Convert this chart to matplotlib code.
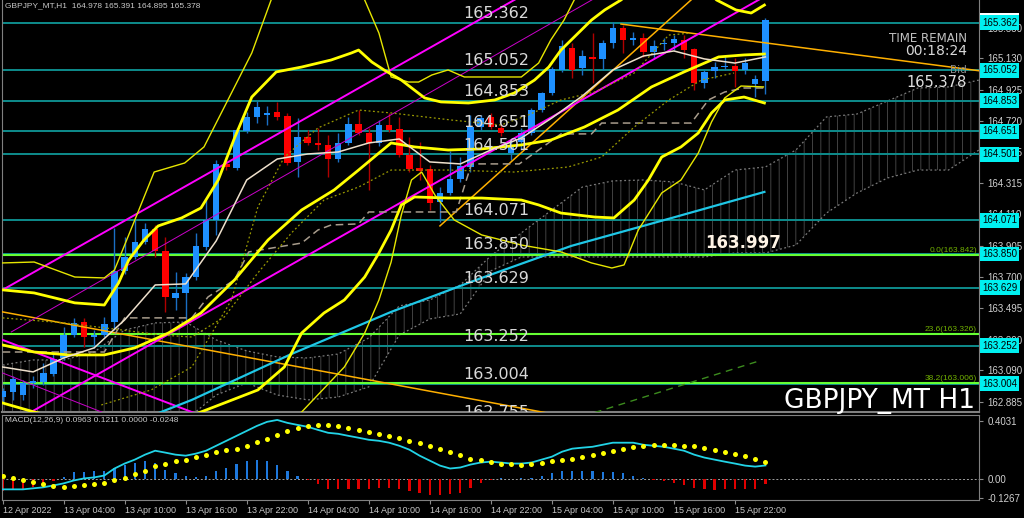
import numpy as np
import matplotlib
matplotlib.use('Agg')
import matplotlib.pyplot as plt

plt.rcParams.update({
    'font.family': ['DejaVu Sans'],
    'hatch.linewidth': 0.6,
})
SMALL = 'Liberation Sans'

# ---------------------------------------------------------------- candles (H1)
opens = [162.916, 162.949, 162.929, 163.008, 163.014, 163.067, 163.171, 163.321, 163.406, 163.308,
         163.321, 163.406, 163.740, 163.831, 163.929, 164.014, 163.870, 163.563, 163.596, 163.700,
         163.896, 164.073, 164.439, 164.412, 164.654, 164.746, 164.759, 164.778, 164.752, 164.452,
         164.615, 164.576, 164.563, 164.471, 164.576, 164.700, 164.641, 164.576, 164.693, 164.667,
         164.497, 164.412, 164.406, 164.190, 164.249, 164.341, 164.419, 164.680, 164.746, 164.674,
         164.510, 164.582, 164.641, 164.791, 164.902, 165.053, 165.196, 165.066, 165.138, 165.125,
         165.229, 165.327, 165.249, 165.262, 165.170, 165.223, 165.229, 165.249, 165.190, 164.968,
         165.046, 165.072, 165.079, 165.053, 164.961, 164.978]
highs = [162.975, 163.054, 163.027, 163.054, 163.139, 163.204, 163.374, 163.433, 163.433, 163.354,
         163.439, 164.020, 163.962, 164.073, 164.053, 164.040, 163.962, 163.733, 163.727, 163.988,
         164.203, 164.465, 164.491, 164.674, 164.778, 164.850, 164.817, 164.844, 164.772, 164.739,
         164.661, 164.674, 164.628, 164.641, 164.746, 164.791, 164.674, 164.726, 164.772, 164.746,
         164.615, 164.582, 164.432, 164.288, 164.524, 164.484, 164.759, 164.759, 164.772, 164.700,
         164.595, 164.674, 164.804, 164.909, 165.072, 165.249, 165.229, 165.183, 165.294, 165.249,
         165.366, 165.347, 165.301, 165.294, 165.249, 165.262, 165.281, 165.281, 165.196, 165.053,
         165.105, 165.151, 165.131, 165.131, 165.020, 165.391]
lows = [162.884, 162.897, 162.897, 162.975, 162.995, 163.054, 163.158, 163.308, 163.243, 163.237,
        163.308, 163.354, 163.720, 163.818, 163.916, 163.831, 163.472, 163.485, 163.420, 163.681,
        163.877, 163.975, 164.399, 164.399, 164.641, 164.706, 164.693, 164.726, 164.432, 164.354,
        164.563, 164.530, 164.354, 164.452, 164.563, 164.628, 164.269, 164.556, 164.648, 164.484,
        164.386, 164.334, 164.138, 164.060, 164.236, 164.321, 164.386, 164.661, 164.667, 164.622,
        164.465, 164.530, 164.628, 164.778, 164.889, 165.040, 165.000, 165.020, 164.968, 165.053,
        165.196, 165.164, 165.216, 165.138, 165.131, 165.183, 165.183, 165.131, 164.922, 164.935,
        165.000, 165.053, 164.942, 165.027, 164.876, 164.895]
closes = [162.956, 163.034, 163.008, 163.021, 163.073, 163.165, 163.321, 163.400, 163.308, 163.321,
          163.393, 163.740, 163.831, 163.929, 164.014, 163.870, 163.570, 163.596, 163.700, 163.903,
          164.073, 164.439, 164.419, 164.661, 164.746, 164.811, 164.772, 164.746, 164.445, 164.615,
          164.576, 164.563, 164.471, 164.576, 164.700, 164.641, 164.576, 164.693, 164.661, 164.497,
          164.406, 164.393, 164.184, 164.249, 164.341, 164.425, 164.680, 164.739, 164.680, 164.641,
          164.556, 164.641, 164.791, 164.902, 165.059, 165.209, 165.053, 165.144, 165.125, 165.229,
          165.327, 165.249, 165.262, 165.170, 165.209, 165.229, 165.255, 165.183, 164.968, 165.040,
          165.072, 165.079, 165.046, 165.098, 164.994, 165.378]

# ---------------------------------------------------------------- indicator lines (bar, price)
ma_bars = [0, 3, 6, 9, 12, 15, 18, 21, 24, 27, 30, 33, 36, 39, 42, 45, 48, 51, 54, 57, 60, 63, 66, 69, 72, 75]
ma_vals = [163.112, 163.080, 163.171, 163.237, 163.420, 163.648, 163.655, 163.936, 164.334, 164.471,
           164.504, 164.517, 164.576, 164.602, 164.452, 164.439, 164.530, 164.608, 164.739, 164.883,
           165.053, 165.144, 165.177, 165.125, 165.098, 165.138]

bb3u_bars = [0, 3.1, 7.1, 10.0, 11.0, 13.0, 14.9, 17.9, 19.8, 21.8, 24.5, 26.4, 29.4, 33.3, 35.6,
             37.0, 38.2, 39.9, 40.9, 42.2, 43.8, 45.4, 51.0, 52.7, 53.9, 55.2, 56.2, 58.9, 63.8, 74.9]
bb3u_vals = [163.792, 163.798, 163.700, 163.694, 163.746, 164.073, 164.386, 164.445, 164.550, 164.811,
             165.164, 165.510, 165.771, 165.771, 165.510, 165.294, 165.007, 164.974, 164.974, 165.020,
             165.053, 165.007, 165.007, 165.098, 165.249, 165.379, 165.510, 165.771, 165.837, 165.706]

bb2u_bars = [0, 3.1, 7.1, 10.0, 11.4, 12.4, 13.9, 15.3, 17.6, 19.5, 21.2, 22.8, 24.5, 26.9, 29.4,
             32.3, 34.3, 35.0, 36.3, 37.5, 39.2, 41.5, 43.1, 45.8, 48.4, 50.3, 52.3, 53.7, 54.9, 56.2,
             57.9, 59.2, 60.8, 63.8, 67.7, 70.2, 72.1, 73.6, 74.9]
bb2u_vals = [163.616, 163.596, 163.531, 163.517, 163.661, 163.811, 163.942, 164.034, 164.086, 164.151,
             164.334, 164.608, 164.876, 165.040, 165.072, 165.118, 165.164, 165.183, 165.105, 165.053,
             164.987, 164.870, 164.844, 164.837, 164.857, 164.902, 164.987, 165.072, 165.183, 165.268,
             165.379, 165.445, 165.510, 165.673, 165.673, 165.510, 165.445, 165.425, 165.477]

bbm_bars = [0, 3.1, 6.5, 10.0, 13.0, 16.3, 19.5, 22.8, 26.1, 29.4, 32.6, 35.0, 37.0, 38.2, 40.5,
            43.8, 47.1, 51.0, 53.9, 57.2, 60.5, 63.8, 67.0, 70.4, 72.9, 74.9]
bbm_vals = [163.256, 163.210, 163.191, 163.191, 163.237, 163.334, 163.465, 163.681, 163.942, 164.138,
            164.269, 164.399, 164.510, 164.576, 164.550, 164.530, 164.537, 164.563, 164.595, 164.680,
            164.791, 164.942, 165.040, 165.138, 165.151, 165.157]

bb2l_bars = [0, 3.1, 6.5, 14.6, 19.5, 21.8, 25.1, 27.7, 29.4, 31.6, 33.6, 35.6, 37.0, 38.2, 39.2,
             40.5, 43.8, 47.1, 51.0, 52.7, 54.9, 58.2, 60.1, 62.1, 63.5, 64.8, 66.7, 68.4, 69.7, 71.0,
             72.9, 74.9]
bb2l_vals = [162.877, 162.818, 162.766, 162.701, 162.818, 162.877, 162.962, 163.112, 163.334, 163.465,
             163.550, 163.700, 163.857, 164.007, 164.171, 164.223, 164.216, 164.216, 164.203, 164.171,
             164.118, 164.092, 164.086, 164.203, 164.334, 164.484, 164.550, 164.641, 164.772, 164.857,
             164.876, 164.837]

bb3l_bars = [27.4, 29.4, 33.6, 35.6, 37.0, 38.2, 39.2, 40.2, 41.2, 42.5, 44.4, 47.1, 51.0, 54.9, 57.9,
             59.9, 61.1, 62.5, 64.8, 66.7, 68.4, 69.7, 71.0, 72.6, 74.8]
bb3l_vals = [162.701, 162.818, 163.112, 163.334, 163.550, 163.798, 164.105, 164.334, 164.386, 164.236,
             164.073, 163.975, 163.909, 163.864, 163.792, 163.759, 163.779, 164.007, 164.249, 164.334,
             164.510, 164.713, 164.870, 164.948, 164.942]

dot1_bars = [9.7, 14.6, 18.6, 22.5, 25.1, 27.7, 31.0, 35.0, 38.2, 44.1, 49.0, 51.7, 54.9, 58.2, 62.1, 65.5, 67.7]
dot1_vals = [162.864, 162.962, 163.112, 163.550, 164.158, 164.484, 164.674, 164.791, 164.772, 164.726,
             164.693, 164.759, 164.857, 164.909, 165.033, 165.281, 165.294]
dot2_bars = [0, 6.1, 11.7, 15.6, 18.6, 21.8, 25.1, 28.4, 31.6, 35.0, 38.2, 43.8, 50.3, 55.6, 58.9, 62.1,
             65.5, 68.7, 71.9]
dot2_vals = [163.433, 163.400, 163.354, 163.321, 163.308, 163.439, 163.727, 163.988, 164.203, 164.288,
             164.399, 164.399, 164.386, 164.419, 164.484, 164.680, 164.857, 164.987, 165.033]

kijun_bars = [0, 10.0, 12.0, 18.6, 20.2, 22.8, 24.2, 29.4, 31.0, 32.3, 35.0, 36.0, 44.6, 46.1, 50.8,
              54.9, 57.9, 58.9, 67.7, 69.4, 71.0, 72.9, 74.9]
kijun_vals = [163.210, 163.210, 163.433, 163.433, 163.570, 163.681, 163.864, 163.922, 164.007, 164.040,
              164.047, 164.125, 164.125, 164.439, 164.439, 164.635, 164.635, 164.706, 164.706, 164.857,
              164.909, 164.935, 164.935]

cloud_bars = list(range(0, 97, 3))
cloud_a = [163.125, 163.158, 163.158, 163.210, 163.354, 163.400, 163.406, 163.289, 163.217, 163.178,
           163.171, 163.197, 163.302, 163.511, 163.550, 163.648, 163.838, 163.988, 164.138, 164.288,
           164.328, 164.334, 164.321, 164.269, 164.399, 164.419, 164.530, 164.746, 164.765, 164.850,
           164.935, 164.942, 164.987]
cloud_b = [162.766, 162.766, 162.766, 162.766, 162.766, 162.766, 162.766, 162.929, 163.008, 162.929,
           162.897, 162.916, 162.982, 163.321, 163.426, 163.459, 163.740, 163.831, 163.831, 163.831,
           163.831, 163.831, 163.831, 163.831, 163.857, 163.857, 163.909, 164.118, 164.249, 164.347,
           164.399, 164.399, 164.530]

ma_long_bars = [13.6, 18.6, 28.4, 38.2, 47.1, 55.9, 65.8, 74.9]
ma_long_vals = [162.766, 162.897, 163.197, 163.472, 163.694, 163.903, 164.086, 164.256]

# trend lines / channel (start, end)
chan_up = ([0, 75], [163.616, 166.440])
chan_mid = ([0.85, 75], [163.341, 166.159])
chan_lo = ([2.8, 75], [162.818, 165.536])
down_thick = ([0, 25], [163.289, 162.656])
down_thin = ([0, 15], [163.073, 162.680])
trend_or1 = ([0, 60], [163.472, 162.732])
trend_or2 = ([60.8, 96.2], [165.353, 165.046])
trend_or3 = ([43.0, 72.0], [164.034, 165.768])
green_dash = ([50, 74.4], [162.643, 163.152])

levels = [165.362, 165.052, 164.853, 164.651, 164.501, 164.071, 163.850, 163.629, 163.252, 163.004, 162.755]
fib_levels = [163.842, 163.326, 163.006]
fib_labels = ['0.0(163.842)', '23.6(163.326)', '38.2(163.006)']
price_ticks = [165.330, 165.130, 164.925, 164.720, 164.515, 164.315, 164.110, 163.905,
               163.700, 163.495, 163.290, 163.090, 162.885]

# ---------------------------------------------------------------- MACD(12,26,9)
macd = [-0.068, -0.068, -0.068, -0.061, -0.054, -0.041, -0.027, -0.007, 0.007, 0.014,
        0.027, 0.075, 0.109, 0.136, 0.170, 0.197, 0.184, 0.170, 0.163, 0.177,
        0.197, 0.231, 0.265, 0.299, 0.333, 0.367, 0.395, 0.408, 0.388, 0.374,
        0.361, 0.340, 0.320, 0.313, 0.299, 0.286, 0.272, 0.265, 0.252, 0.231,
        0.204, 0.163, 0.129, 0.095, 0.075, 0.082, 0.102, 0.116, 0.122, 0.116,
        0.109, 0.109, 0.116, 0.136, 0.156, 0.190, 0.211, 0.218, 0.224, 0.238,
        0.252, 0.252, 0.252, 0.238, 0.231, 0.224, 0.211, 0.197, 0.170, 0.150,
        0.136, 0.122, 0.109, 0.095, 0.088, 0.096]
signal = [0.027, 0.011, -0.007, -0.018, -0.034, -0.045, -0.050, -0.045, -0.041, -0.034,
          -0.023, -0.007, 0.007, 0.034, 0.061, 0.091, 0.109, 0.125, 0.136, 0.154,
          0.170, 0.188, 0.200, 0.211, 0.231, 0.254, 0.279, 0.306, 0.333, 0.352,
          0.367, 0.372, 0.372, 0.367, 0.352, 0.340, 0.327, 0.313, 0.299, 0.284,
          0.265, 0.250, 0.231, 0.209, 0.186, 0.165, 0.143, 0.131, 0.118, 0.109,
          0.107, 0.102, 0.107, 0.113, 0.125, 0.131, 0.143, 0.154, 0.170, 0.181,
          0.197, 0.209, 0.222, 0.231, 0.233, 0.236, 0.236, 0.231, 0.227, 0.213,
          0.200, 0.186, 0.175, 0.161, 0.143, 0.121]
hist = [-0.079, -0.068, -0.063, -0.050, -0.041, -0.011, 0.018, 0.050, 0.050, 0.057,
        0.061, 0.079, 0.102, 0.113, 0.125, 0.113, 0.068, 0.041, 0.023, 0.018,
        0.027, 0.061, 0.079, 0.107, 0.125, 0.136, 0.125, 0.102, 0.057, 0.023,
        -0.007, -0.034, -0.063, -0.068, -0.068, -0.063, -0.063, -0.057, -0.057, -0.068,
        -0.079, -0.091, -0.109, -0.109, -0.102, -0.091, -0.057, -0.023, -0.005, 0.007,
        0.005, 0.007, 0.011, 0.027, 0.041, 0.061, 0.061, 0.061, 0.057, 0.052,
        0.052, 0.041, 0.027, 0.007, -0.005, -0.014, -0.023, -0.036, -0.059, -0.063,
        -0.073, -0.063, -0.063, -0.063, -0.063, -0.034]

tick_bars = [0, 6, 12, 18, 24, 30, 36, 42, 48, 54, 60, 66, 72]
tick_labels = ['12 Apr 2022', '13 Apr 04:00', '13 Apr 10:00', '13 Apr 16:00', '13 Apr 22:00',
               '14 Apr 04:00', '14 Apr 10:00', '14 Apr 16:00', '14 Apr 22:00', '15 Apr 04:00',
               '15 Apr 10:00', '15 Apr 16:00', '15 Apr 22:00']

# ----------------------------------------------------------------------------------------------
fig = plt.figure(figsize=(10.24, 5.18), dpi=100, facecolor='black')
ax = fig.add_axes([2 / 1024, 106 / 518, 977 / 1024, 412 / 518], facecolor='black')
ax2 = fig.add_axes([2 / 1024, 18 / 518, 977 / 1024, 85 / 518], facecolor='black', sharex=ax)

bars = np.arange(len(opens))
o, h, l, c = (np.array(v) for v in (opens, highs, lows, closes))

# ichimoku cloud
ax.fill_between(cloud_bars, cloud_a, cloud_b, facecolor='none', edgecolor='#4c4c4c',
                hatch='||', linewidth=0, zorder=1)
ax.plot(cloud_bars, cloud_a, color='#7a7a7a', lw=0.9, ls=(0, (1.5, 2)), zorder=1.2)
ax.plot(cloud_bars, cloud_b, color='#7a7a7a', lw=0.9, ls=(0, (1.5, 2)), zorder=1.2)

# horizontal levels
for lv in levels:
    ax.axhline(lv, color='#0e8c8c', lw=1.4, zorder=2)
    ax.text(45.3, lv + 0.012, f'{lv:.3f}', color='#d8d8d8', fontsize=11.5,
            ha='left', va='bottom', zorder=8, clip_on=True)
for lv, lab in zip(fib_levels, fib_labels):
    ax.axhline(lv, color='#66ff33', lw=1.5, zorder=2.1)
    ax.text(0.9979, lv + 0.006, lab, transform=ax.get_yaxis_transform(), ha='right', va='bottom',
            fontsize=6, family=SMALL, color='#70b000', zorder=8)

# candles
up = c >= o
ax.vlines(bars, l, h, colors=np.where(up, '#1a6fc4', '#b00000'), lw=1, zorder=3)
ax.bar(bars, np.maximum(np.abs(c - o), 0.004), bottom=np.minimum(o, c), width=0.64,
       color=np.where(up, '#1e90ff', '#ff0000'), linewidth=0, zorder=3.1)

# indicators
ax.plot(*trend_or1, color='#ffb000', lw=1.1, zorder=4)
ax.plot(*trend_or2, color='#ffb000', lw=1.1, zorder=4)
ax.plot(*trend_or3, color='#ffb000', lw=1.1, zorder=4)
ax.plot(*green_dash, color='#3c8c1e', lw=1, ls=(0, (5, 4)), zorder=4)
ax.plot(*chan_up, color='#ff00ff', lw=1.4, zorder=4)
ax.plot(*chan_mid, color='#cc00cc', lw=0.7, zorder=4)
ax.plot(*chan_lo, color='#ff00ff', lw=1.4, zorder=4)
ax.plot(*down_thick, color='#ff00ff', lw=1.4, zorder=4)
ax.plot(*down_thin, color='#cc00cc', lw=0.7, zorder=4)
ax.plot(ma_long_bars, ma_long_vals, color='#1fc7e6', lw=1.6, zorder=4)
ax.plot(kijun_bars, kijun_vals, color='#a89c8c', lw=1.1, ls=(0, (5, 3)), zorder=4)
ax.plot(dot1_bars, dot1_vals, color='#9a9a00', lw=0.9, ls=(0, (1.5, 2)), zorder=4)
ax.plot(dot2_bars, dot2_vals, color='#9a9a00', lw=0.9, ls=(0, (1.5, 2)), zorder=4)
ax.plot(bb3u_bars, bb3u_vals, color='#e6e600', lw=1.0, zorder=4.2)
ax.plot(bb3l_bars, bb3l_vals, color='#e6e600', lw=1.0, zorder=4.2)
ax.plot(bb2u_bars, bb2u_vals, color='#ffff00', lw=2.0, zorder=4.3)
ax.plot(bbm_bars, bbm_vals, color='#ffff00', lw=2.0, zorder=4.3)
ax.plot(bb2l_bars, bb2l_vals, color='#ffff00', lw=2.0, zorder=4.3)
ax.plot(ma_bars, ma_vals, color='#eee0cc', lw=1.1, zorder=4.4)

ax.set_xlim(-0.06, 96.0)
ax.set_ylim(162.818, 165.510)

# price scale
ax.yaxis.tick_right()
ax.set_yticks(price_ticks)
ax.set_yticklabels([f'{t:.3f}' for t in price_ticks])
ax.tick_params(axis='y', colors='#8a8a8a', labelcolor='#d0d0d0', labelsize=7, length=3, pad=3,
               labelfontfamily=SMALL)
ax.tick_params(axis='x', bottom=False, labelbottom=False)
ytr = ax.get_yaxis_transform()
ax.text(1.003, 165.378, '165.378', transform=ytr, ha='left', va='center', fontsize=7, family=SMALL,
        color='black', bbox=dict(boxstyle='square,pad=0.25', fc='white', ec='none'), zorder=9, clip_on=False)
for lv in levels[:-1]:
    ax.text(1.003, lv, f'{lv:.3f}', transform=ytr, ha='left', va='center', fontsize=7, family=SMALL,
            color='black', bbox=dict(boxstyle='square,pad=0.25', fc='#00f0f0', ec='none'),
            zorder=9, clip_on=False)

# overlay texts
ax.text(0.9877, 0.898, 'TIME REMAIN', transform=ax.transAxes, ha='right', va='baseline',
        color='#c0c0c0', fontsize=8.6, zorder=9)
ax.text(0.9877, 0.866, '00:18:24', transform=ax.transAxes, ha='right', va='baseline',
        color='#d8d8d8', fontsize=10, zorder=9)
ax.text(0.9877, 0.823, 'Bid', transform=ax.transAxes, ha='right', va='baseline',
        color='#8c8c8c', fontsize=7.5, zorder=9)
ax.text(0.9877, 0.789, '165.378', transform=ax.transAxes, ha='right', va='baseline',
        color='#e0e0e0', fontsize=10.5, zorder=9)
ax.text(0.7195, 0.398, '163.997', transform=ax.transAxes, ha='left', va='baseline',
        color='#fff4e6', fontsize=12, weight='bold', zorder=9)
ax.text(0.9959, 0.0097, 'GBPJPY_MT H1', transform=ax.transAxes, ha='right', va='baseline',
        color='white', fontsize=19, zorder=9)

for side in ('left', 'right', 'bottom'):
    ax.spines[side].set_color('#808080')
ax.spines['bottom'].set_linewidth(1.5)
ax.spines['top'].set_visible(False)

# MACD panel
ax2.bar(bars, hist, width=0.22, color=np.where(np.array(hist) >= 0, '#1e78dc', '#e00000'), zorder=2)
ax2.axhline(0, color='#a0a0a0', lw=0.7, ls=(0, (2, 2)), zorder=1)
ax2.plot(bars, macd, color='#22d3e6', lw=1.3, zorder=3)
ax2.scatter(bars, signal, s=13, color='#ffff00', linewidths=0, zorder=4)
ax2.set_ylim(-0.141, 0.442)
ax2.yaxis.tick_right()
ax2.set_yticks([0.4031, 0.0, -0.1267])
ax2.set_yticklabels(['0.4031', '0.00', '-0.1267'])
ax2.tick_params(axis='y', colors='#8a8a8a', labelcolor='#d0d0d0', labelsize=7, length=3, pad=3,
                labelfontfamily=SMALL)
ax2.set_xticks(tick_bars)
ax2.set_xticklabels(tick_labels, ha='left')
ax2.tick_params(axis='x', colors='#8a8a8a', labelcolor='#c8c8c8', labelsize=6.5, length=3, pad=1,
                labelfontfamily=SMALL)
for side in ax2.spines:
    ax2.spines[side].set_color('#808080')
ax2.set_xlim(-0.06, 96.0)

fig.text(5 / 1024, 1 - 2 / 518, 'GBPJPY_MT,H1  164.978 165.391 164.895 165.378', color='#c8c8c8',
         fontsize=6, family=SMALL, va='top')
fig.text(5 / 1024, 1 - 417 / 518, 'MACD(12,26,9) 0.0963 0.1211 0.0000 -0.0248', color='#c8c8c8',
         fontsize=6, family=SMALL, va='top')

fig.savefig('out.png', dpi=100, facecolor='black')
